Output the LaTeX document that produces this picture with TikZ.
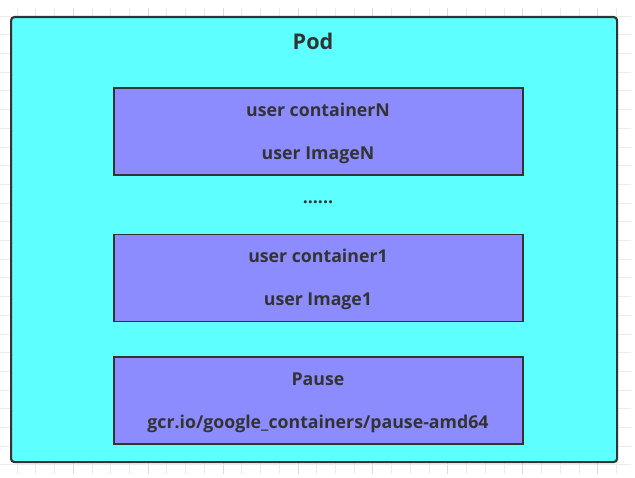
\documentclass[tikz,border=0pt]{standalone}
\usepackage{fontspec}
\setmainfont{Open Sans}
\begin{document}
\begin{tikzpicture}[x=0.75pt,y=-0.75pt,
  gridminor/.style={draw=black!8,line width=0.6pt},
  gridmajor/.style={draw=black!14,line width=0.6pt},
  podbox/.style={draw=black!80,line width=1.6pt,fill=podcyan,rounded corners=2.5pt,inner sep=0pt,anchor=north west},
  ctrbox/.style={draw=black!80,line width=1.2pt,fill=ctrblue,inner sep=0pt,anchor=north west,
    minimum width=306.75pt,minimum height=65.5pt},
  label/.style={text=black!80,font=\bfseries\fontsize{13.3}{15}\selectfont,inner sep=0pt,anchor=base},
  title/.style={text=black!80,font=\bfseries\fontsize{16.2}{19}\selectfont,inner sep=0pt,anchor=base}]
\definecolor{podcyan}{HTML}{5EFFFF}
\definecolor{ctrblue}{HTML}{8C8CFF}
\useasboundingbox (0,0) rectangle (635,478);
\fill[white] (0,0) rectangle (635,478);
% background grid
\begin{scope}
  \clip (0,9) rectangle (631,473);
  \foreach \i in {0,...,34} {
    \pgfmathsetmacro\gx{17+18.73*(\i-1)}
    \pgfmathsetmacro\gy{16+18.7*(\i-1)}
    \pgfmathtruncatemacro\ismaj{mod(\i+100-4,4)==0 ? 1 : 0}
    \ifnum\ismaj=1
      \draw[gridmajor] (\gx,0) -- (\gx,480);
    \else
      \draw[gridminor] (\gx,0) -- (\gx,480);
    \fi
    \draw[gridminor] (0,\gy) -- (640,\gy);
  }
\end{scope}
% pod frame
\node[podbox,minimum width=454.5pt,minimum height=333.75pt] (pod) at (10,16) {};
\node[title] (podlabel) at (313,50) {Pod};
% containers (labels placed by baseline)
\node[ctrbox] (cn) at (113,87) {};
\node[label] (cnname) at (318,116) {user containerN};
\node[label] (cnimg) at (318,159.3) {user ImageN};
\node[label] (dots) at (318,203) {......};
\node[ctrbox] (c1) at (113,233.5) {};
\node[label] (c1name) at (318,262.3) {user container1};
\node[label] (c1img) at (318,305.6) {user Image1};
\node[ctrbox] (pause) at (113,356) {};
\node[label] (pausename) at (318,385) {Pause};
\node[label] (pauseimg) at (318,428.3) {gcr.io/google\_containers/pause-amd64};
\end{tikzpicture}
\end{document}
